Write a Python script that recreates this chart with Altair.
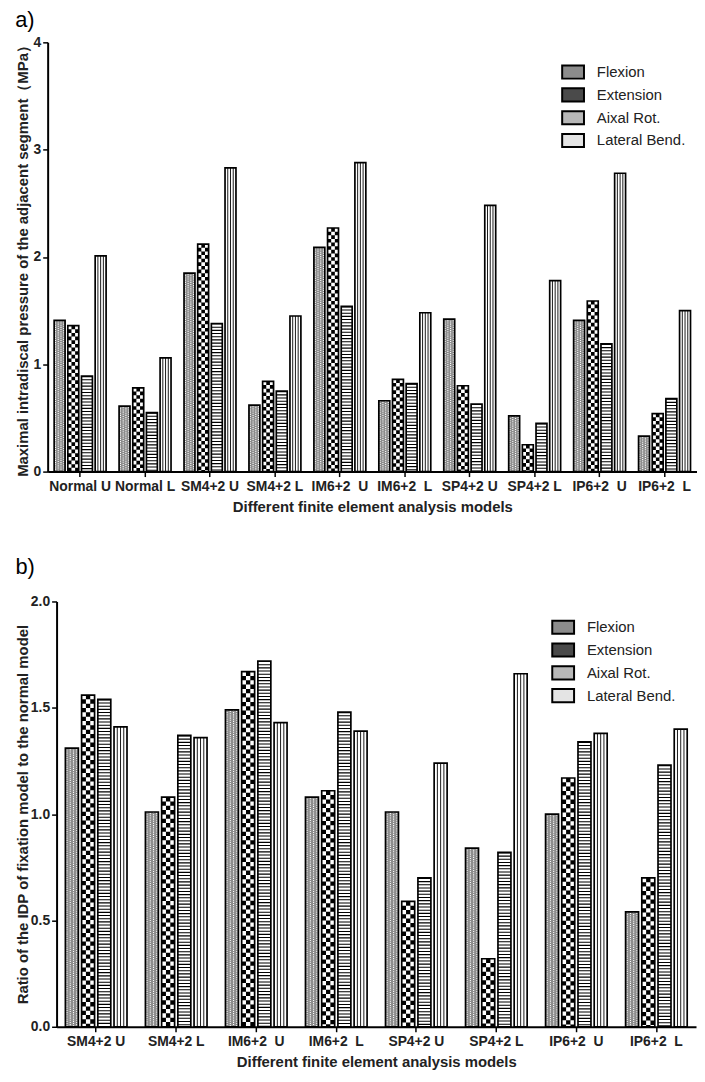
import altair as alt
import pandas as pd

FONT = "Liberation Sans"

series = ["Flexion", "Extension", "Aixal Rot.", "Lateral Bend."]
tones = ["#8c8c8c", "#4a4a4a", "#b8b8b8", "#e4e4e4"]

# panel a) - maximal intradiscal pressure (MPa)
models_a = ["Normal U", "Normal L", "SM4+2 U", "SM4+2 L", "IM6+2\u00a0 U",
            "IM6+2\u00a0 L", "SP4+2 U", "SP4+2 L", "IP6+2\u00a0 U", "IP6+2\u00a0 L"]
flexion_a = [1.41, 0.61, 1.85, 0.62, 2.09, 0.66, 1.42, 0.52, 1.41, 0.33]
extension_a = [1.36, 0.78, 2.12, 0.84, 2.27, 0.86, 0.80, 0.25, 1.59, 0.54]
axial_a = [0.89, 0.55, 1.38, 0.75, 1.54, 0.82, 0.63, 0.45, 1.19, 0.68]
lateral_a = [2.01, 1.06, 2.83, 1.45, 2.88, 1.48, 2.48, 1.78, 2.78, 1.50]
ticks_a = [0, 1, 2, 3, 4]

# panel b) - ratio of IDP of fixation model to normal model
models_b = ["SM4+2 U", "SM4+2 L", "IM6+2\u00a0 U", "IM6+2\u00a0 L",
            "SP4+2 U", "SP4+2 L", "IP6+2\u00a0 U", "IP6+2\u00a0 L"]
flexion_b = [1.31, 1.01, 1.49, 1.08, 1.01, 0.84, 1.00, 0.54]
extension_b = [1.56, 1.08, 1.67, 1.11, 0.59, 0.32, 1.17, 0.70]
axial_b = [1.54, 1.37, 1.72, 1.48, 0.70, 0.82, 1.34, 1.23]
lateral_b = [1.41, 1.36, 1.43, 1.39, 1.24, 1.66, 1.38, 1.40]
ticks_b = [0, 0.5, 1.0, 1.5, 2.0]


def panel(models, cols, ticks, fmt, ytitle, letter, width, height,
          pad_in, pad_out, leg_x, leg_y, title_offset, ytitle_pad):
    df = pd.DataFrame([
        {"model": m, "series": s, "value": v}
        for s, col in zip(series, cols) for m, v in zip(models, col)
    ])

    # geometry of the bars inside a group (used to place the hatch strokes)
    group_w = width * (1 - pad_in) / (len(models) - pad_in + 2 * pad_out)
    step = group_w / (len(series) - 0.2)
    bar_w = 0.8 * step
    centers = {s: k * step + bar_w / 2 - group_w / 2 for k, s in enumerate(series)}

    x = alt.X("model:N", sort=models, title="Different finite element analysis models",
              scale=alt.Scale(paddingInner=pad_in, paddingOuter=pad_out),
              axis=alt.Axis(labelAngle=0, labelOverlap=False, labelLimit=200,
                            labelPadding=3, titlePadding=6))
    y = alt.Y("value:Q", title=ytitle,
              scale=alt.Scale(domain=[ticks[0], ticks[-1]], nice=False),
              axis=alt.Axis(values=ticks, format=fmt, labelPadding=2, titlePadding=ytitle_pad))
    base = alt.Chart(df).encode(
        x=x, y=y,
        xOffset=alt.XOffset("series:N", sort=series,
                            scale=alt.Scale(paddingInner=0.2, paddingOuter=0)),
    )
    plain = alt.Chart(df).encode(x=x, y=y)

    fill = base.mark_bar().encode(
        color=alt.Color("series:N", sort=series,
                        scale=alt.Scale(domain=series, range=tones),
                        legend=alt.Legend(title=None, orient="none", legendX=leg_x, legendY=leg_y,
                                          symbolType="M-1,-0.6H1V0.6H-1Z", symbolSize=484,
                                          symbolStrokeColor="black", symbolStrokeWidth=2,
                                          symbolOpacity=1, labelFont=FONT, labelFontSize=15,
                                          labelColor="#222", labelOffset=12, rowPadding=0,
                                          padding=0))
    )

    def rule(name, dx=0, **kw):
        return (plain.transform_filter(alt.datum.series == name)
                .mark_rule(xOffset=centers[name] + dx, **kw).encode(y2=alt.datum(0)))

    layers = [fill]
    # fine dots for Flexion
    q = bar_w / 4
    for i, dx in enumerate([-1.5 * q, -0.5 * q, 0.5 * q, 1.5 * q]):
        layers.append(rule("Flexion", dx, color="white", strokeWidth=1.1,
                           strokeDash=[1.1, 1.1], strokeDashOffset=1.1 * (i % 2)))
    # checkerboard for Extension
    c = bar_w / 3
    layers.append(rule("Extension", color="black", strokeWidth=bar_w))
    for i, dx in enumerate([-c, 0, c]):
        layers.append(rule("Extension", dx, color="white", strokeWidth=c,
                           strokeDash=[c, c], strokeDashOffset=c * (i % 2)))
    # horizontal lines for Aixal Rot.
    layers.append(rule("Aixal Rot.", color="white", strokeWidth=bar_w))
    layers.append(rule("Aixal Rot.", color="black", strokeWidth=bar_w, strokeDash=[1.1, 2.1]))
    # vertical lines for Lateral Bend.
    layers.append(rule("Lateral Bend.", color="white", strokeWidth=bar_w))
    for dx in [-bar_w / 4, 0, bar_w / 4]:
        layers.append(rule("Lateral Bend.", dx, color="black", strokeWidth=0.9))
    # outlines
    layers.append(base.mark_bar(fillOpacity=0, stroke="black", strokeWidth=1.7))

    return alt.layer(*layers).properties(
        width=width, height=height,
        title=alt.Title(letter, anchor="start", frame="bounds", font=FONT, fontSize=22,
                        fontWeight="normal", color="black", offset=title_offset),
    )


def spacer():
    # tiny invisible first column, so each panel's left edge (not its plot area) lines up
    return alt.Chart(pd.DataFrame({"v": [0]})).mark_point(opacity=0).encode(
        x=alt.X("v:Q", axis=None), y=alt.Y("v:Q", axis=None)
    ).properties(width=1, height=1)


chart_a = panel(models_a, [flexion_a, extension_a, axial_a, lateral_a], ticks_a, "d",
                "Maximal intradiscal pressure of the adjacent segment（MPa）", "a)",
                655, 433, 0.2, 0.1, 555, 18, 3, 3)
chart_b = panel(models_b, [flexion_b, extension_b, axial_b, lateral_b], ticks_b, ".1f",
                "Ratio of the IDP of fixation model to the normal model", "b)",
                645, 429, 0.23, 0.11, 545, 14, 16, 0)

chart = alt.vconcat(
    alt.hconcat(spacer(), chart_a, spacing=0),
    alt.hconcat(spacer(), chart_b, spacing=0),
    spacing=42,
).resolve_scale(
    color="independent", xOffset="independent"
).properties(
    padding={"left": 0, "top": -3, "right": 0, "bottom": 0}
).configure_axis(
    labelFont=FONT, titleFont=FONT, labelFontWeight="bold", titleFontWeight="bold",
    labelFontSize=14, titleFontSize=15, labelColor="#222", titleColor="#222",
    domainColor="black", domainWidth=2, tickColor="black", tickWidth=1.5, tickSize=5,
    grid=False,
).configure_view(strokeWidth=0)

chart.save("out.html", embed_options={"renderer": "svg", "actions": False})
